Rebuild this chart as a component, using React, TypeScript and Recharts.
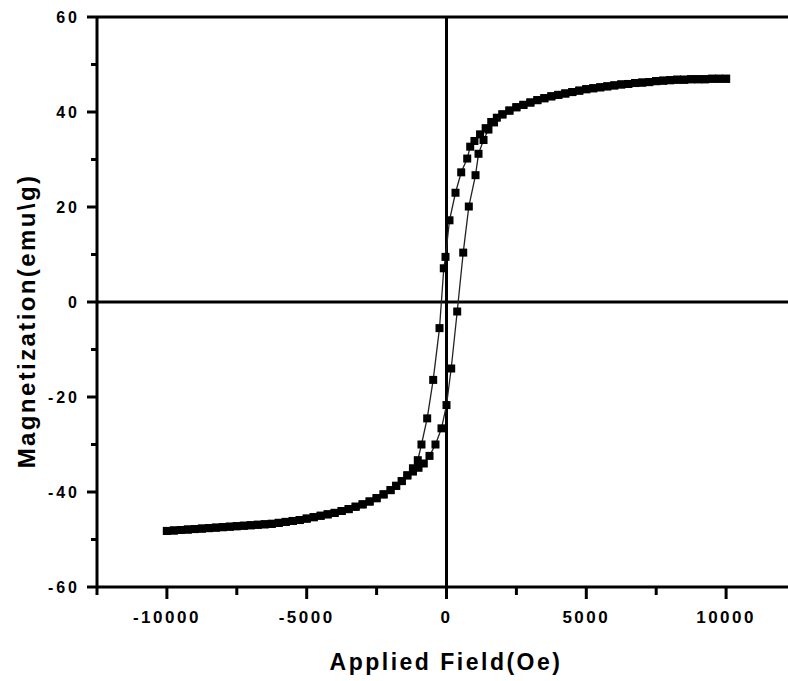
import React from "react";
import {
  ScatterChart,
  Scatter,
  XAxis,
  YAxis,
  ReferenceLine,
} from "recharts";

// applied field (Oe) vs magnetization (emu/g)
const descending: [number, number][] = [
  [10000, 47.0], [9750, 47.0], [9500, 47.0], [9250, 46.9], [9000, 46.9],
  [8750, 46.9], [8500, 46.8], [8250, 46.8], [8000, 46.7], [7750, 46.6],
  [7500, 46.5], [7250, 46.3], [7000, 46.2], [6750, 46.1], [6500, 45.9],
  [6250, 45.8], [6000, 45.6], [5750, 45.4], [5500, 45.2], [5250, 45.0],
  [5000, 44.8], [4750, 44.5], [4500, 44.2], [4250, 43.9], [4000, 43.6],
  [3750, 43.3], [3500, 42.9], [3250, 42.5], [3000, 42.0], [2750, 41.5],
  [2500, 41.0], [2250, 40.3], [2000, 39.5], [1800, 38.8], [1600, 37.9],
  [1400, 36.6], [1200, 35.3], [1000, 33.9], [848, 32.7], [741, 30.2],
  [526, 27.3], [322, 23.0], [107, 17.2], [-36, 9.5], [-97, 7.1],
  [-250, -5.5], [-476, -16.4], [-691, -24.5], [-895, -30.0], [-1027, -33.3],
  [-1200, -35.0], [-1400, -36.5], [-1600, -37.7], [-1800, -38.7], [-2000, -39.6],
  [-2250, -40.5], [-2500, -41.3], [-2750, -42.0], [-3000, -42.6], [-3250, -43.1],
  [-3500, -43.6], [-3750, -44.0], [-4000, -44.4], [-4250, -44.7], [-4500, -45.0],
  [-4750, -45.3], [-5000, -45.6], [-5250, -45.9], [-5500, -46.1], [-5750, -46.3],
  [-6000, -46.5], [-6250, -46.7], [-6500, -46.8], [-6750, -46.9], [-7000, -47.0],
  [-7250, -47.1], [-7500, -47.2], [-7750, -47.3], [-8000, -47.4], [-8250, -47.5],
  [-8500, -47.6], [-8750, -47.7], [-9000, -47.8], [-9250, -47.9], [-9500, -48.0],
  [-9750, -48.1], [-10000, -48.2],
];

const ascending: [number, number][] = [
  [-10000, -48.2], [-9750, -48.1], [-9500, -48.0], [-9250, -47.9], [-9000, -47.8],
  [-8750, -47.7], [-8500, -47.6], [-8250, -47.5], [-8000, -47.4], [-7750, -47.3],
  [-7500, -47.2], [-7250, -47.1], [-7000, -47.0], [-6750, -46.9], [-6500, -46.8],
  [-6250, -46.7], [-6000, -46.5], [-5750, -46.3], [-5500, -46.1], [-5250, -45.9],
  [-5000, -45.6], [-4750, -45.3], [-4500, -45.0], [-4250, -44.7], [-4000, -44.4],
  [-3750, -44.0], [-3500, -43.6], [-3250, -43.1], [-3000, -42.6], [-2750, -42.0],
  [-2500, -41.3], [-2250, -40.5], [-2000, -39.6], [-1800, -38.7], [-1600, -37.7],
  [-1400, -36.5], [-1200, -35.7], [-1000, -34.9], [-812, -34.0], [-608, -32.4],
  [-394, -30.0], [-179, -26.6], [0, -21.7], [168, -14.0], [383, -2.0],
  [598, 10.4], [798, 20.1], [1038, 26.7], [1145, 31.2], [1324, 34.1],
  [1500, 36.3], [1700, 37.8], [2000, 39.5], [2250, 40.3], [2500, 41.0],
  [2750, 41.5], [3000, 42.0], [3250, 42.5], [3500, 42.9], [3750, 43.3],
  [4000, 43.6], [4250, 43.9], [4500, 44.2], [4750, 44.5], [5000, 44.8],
  [5250, 45.0], [5500, 45.2], [5750, 45.4], [6000, 45.6], [6250, 45.8],
  [6500, 45.9], [6750, 46.1], [7000, 46.2], [7250, 46.3], [7500, 46.5],
  [7750, 46.6], [8000, 46.7], [8250, 46.8], [8500, 46.8], [8750, 46.9],
  [9000, 46.9], [9250, 46.9], [9500, 47.0], [9750, 47.0], [10000, 47.0],
];

const xTicks = [-12500, -10000, -7500, -5000, -2500, 0, 2500, 5000, 7500, 10000, 12500];
const xLabelled = [-10000, -5000, 0, 5000, 10000];
const yTicks = [-60, -50, -40, -30, -20, -10, 0, 10, 20, 30, 40, 50, 60];
const yLabelled = [-60, -40, -20, 0, 20, 40, 60];

const FONT = "'Liberation Sans', Arial, sans-serif";

const toRows = (pts: [number, number][]) => pts.map(([h, m]) => ({ h, m }));

function Square(props: any) {
  const { cx, cy } = props;
  if (cx == null || cy == null) return null;
  return <rect x={cx - 4} y={cy - 4} width={8} height={8} fill="#000" />;
}

function XTick(props: any) {
  const { x, y, payload } = props;
  const major = xLabelled.includes(payload.value);
  return (
    <g>
      <line x1={x} x2={x} y1={y} y2={y + (major ? 12 : 8)} stroke="#000" strokeWidth={3} />
      {major && (
        <text
          x={x}
          y={y + 36}
          textAnchor="middle"
          fontFamily={FONT}
          fontWeight="bold"
          fontSize={17}
          letterSpacing={2.5}
          fill="#000"
        >
          {payload.value}
        </text>
      )}
    </g>
  );
}

function YTick(props: any) {
  const { x, y, payload } = props;
  const major = yLabelled.includes(payload.value);
  return (
    <g>
      <line x1={x} x2={x - (major ? 10 : 6)} y1={y} y2={y} stroke="#000" strokeWidth={3} />
      {major && (
        <text
          x={x - 17}
          y={y + 6}
          textAnchor="end"
          fontFamily={FONT}
          fontWeight="bold"
          fontSize={16}
          letterSpacing={3}
          fill="#000"
        >
          {payload.value}
        </text>
      )}
    </g>
  );
}

export default function App() {
  return (
    <div
      style={{
        position: "absolute",
        left: 0,
        top: 0,
        width: 788,
        height: 681,
        overflow: "hidden",
        background: "#fff",
      }}
    >
      <ScatterChart width={830} height={681} margin={{ top: 17, right: 34, left: 0, bottom: 0 }}>
        <XAxis
          type="number"
          dataKey="h"
          domain={[-12500, 12500]}
          ticks={xTicks}
          allowDataOverflow
          height={94}
          tickLine={false}
          tickSize={0}
          tickMargin={0}
          tick={<XTick />}
          axisLine={{ stroke: "#000", strokeWidth: 3 }}
          label={{
            content: () => (
              <text
                x={446}
                y={670}
                textAnchor="middle"
                fontFamily={FONT}
                fontWeight="bold"
                fontSize={23}
                letterSpacing={2.5}
                fill="#000"
              >
                Applied Field(Oe)
              </text>
            ),
          }}
        />
        <YAxis
          type="number"
          dataKey="m"
          domain={[-60, 60]}
          ticks={yTicks}
          allowDataOverflow
          width={97}
          tickLine={false}
          tickSize={0}
          tickMargin={0}
          tick={<YTick />}
          axisLine={{ stroke: "#000", strokeWidth: 3 }}
          label={{
            content: () => (
              <text
                x={35}
                y={321}
                transform="rotate(-90 35 321)"
                textAnchor="middle"
                fontFamily={FONT}
                fontWeight="bold"
                fontSize={24}
                letterSpacing={2.4}
                fill="#000"
              >
                Magnetization(emu\g)
              </text>
            ),
          }}
        />
        <ReferenceLine y={60} stroke="#000" strokeWidth={3} />
        <ReferenceLine x={12500} stroke="#000" strokeWidth={3} />
        <ReferenceLine x={0} stroke="#000" strokeWidth={3} />
        <ReferenceLine y={0} stroke="#000" strokeWidth={3} />
        <Scatter
          data={toRows(descending)}
          line={{ stroke: "#222", strokeWidth: 1.3 }}
          shape={<Square />}
          isAnimationActive={false}
        />
        <Scatter
          data={toRows(ascending)}
          line={{ stroke: "#222", strokeWidth: 1.3 }}
          shape={<Square />}
          isAnimationActive={false}
        />
      </ScatterChart>
    </div>
  );
}
